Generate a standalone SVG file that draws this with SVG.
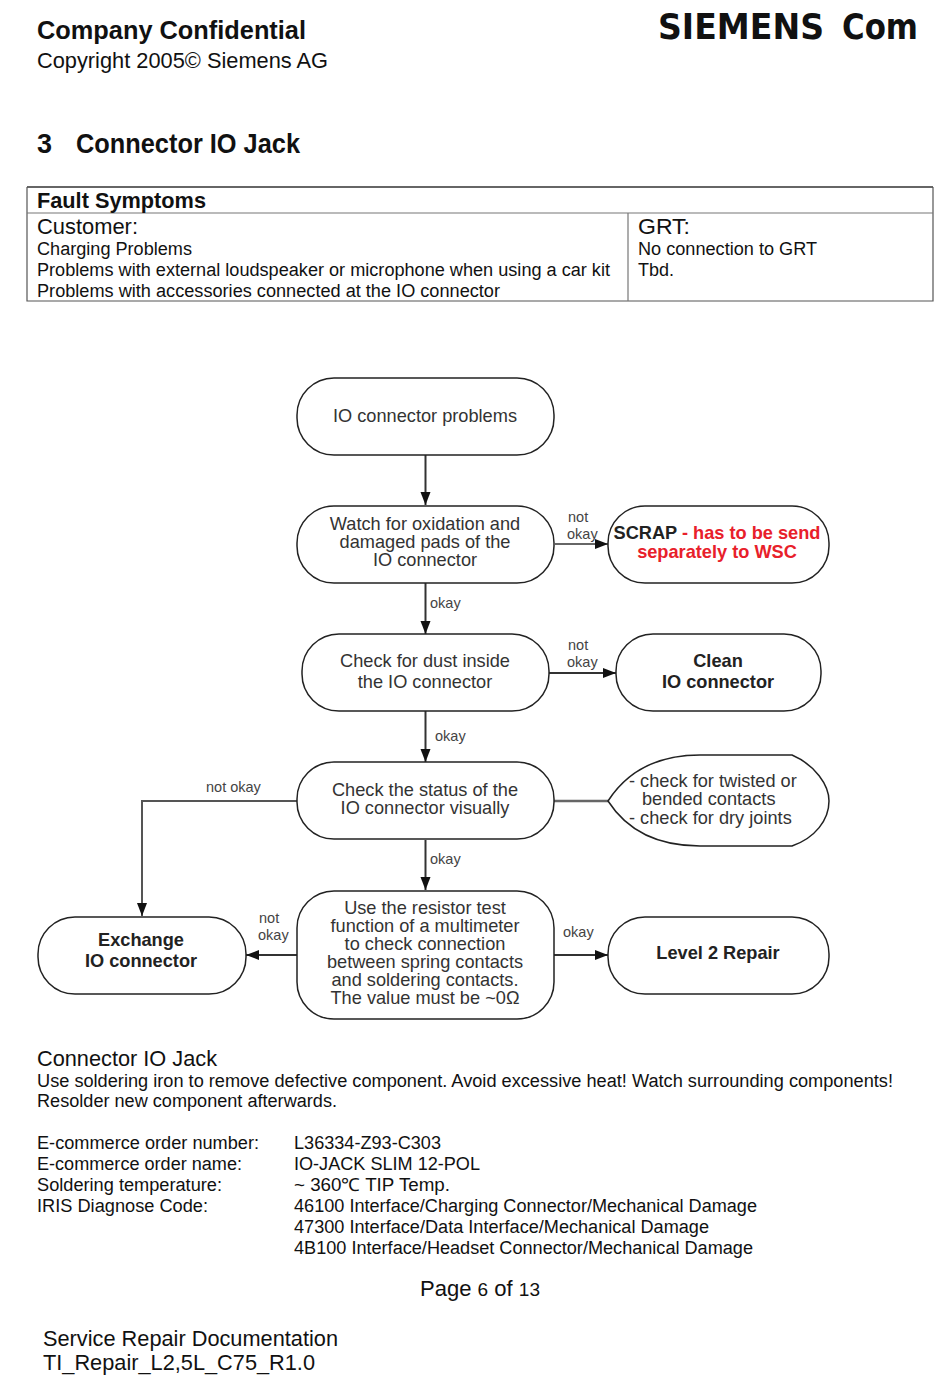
<svg xmlns="http://www.w3.org/2000/svg" width="950" height="1398" viewBox="0 0 950 1398">
<style>
text{font-family:"Liberation Sans",Arial,sans-serif;fill:#111}
.b{font-weight:bold}
.h{font-size:25px}
.m{font-size:22px}
.s{font-size:18px}
.n{font-size:18.2px;text-anchor:middle;fill:#333}
.nb{font-size:18.2px;text-anchor:middle;font-weight:bold;fill:#222}
.l{font-size:14.5px;fill:#444}
.red{fill:#e8202a}
.box{fill:#fff;stroke:#222;stroke-width:1.5}
.c{fill:none;stroke:#333;stroke-width:2}
.t{fill:none;stroke:#555;stroke-width:1.2}
</style>
<defs>
<marker id="a" markerUnits="userSpaceOnUse" markerWidth="14" markerHeight="12" refX="13" refY="5" orient="auto"><path d="M0 0L13 5L0 10Z" fill="#111"/></marker>
</defs>
<rect width="950" height="1398" fill="#fff"/>
<g id="header">
<text x="37" y="39" class="b h" textLength="269" lengthAdjust="spacingAndGlyphs">Company Confidential</text>
<text x="37" y="68" class="m" textLength="291" lengthAdjust="spacingAndGlyphs">Copyright 2005© Siemens AG</text>
<text x="658" y="39" class="b" style="font-family:'DejaVu Sans',sans-serif;font-size:35px" textLength="166" lengthAdjust="spacingAndGlyphs">SIEMENS</text>
<text x="842" y="39" class="b" style="font-family:'DejaVu Sans',sans-serif;font-size:35px" textLength="76" lengthAdjust="spacingAndGlyphs">Com</text>
<text x="37" y="153" class="b" style="font-size:27px">3</text>
<text x="76" y="153" class="b" style="font-size:27px" textLength="224" lengthAdjust="spacingAndGlyphs">Connector IO Jack</text>
</g>
<g id="fault-table">
<path d="M27 187H933" class="t" style="stroke:#333;stroke-width:1.6"/>
<path d="M27 187V301H933V187" class="t"/>
<path d="M27 213H933M628 213V301" class="t" style="stroke:#777"/>
<text x="37" y="208" class="b" style="font-size:22px" textLength="169" lengthAdjust="spacingAndGlyphs">Fault Symptoms</text>
<text x="37" y="234" class="m" textLength="101" lengthAdjust="spacingAndGlyphs">Customer:</text>
<text x="37" y="255" class="s" textLength="155" lengthAdjust="spacingAndGlyphs">Charging Problems</text>
<text x="37" y="276" class="s" textLength="573" lengthAdjust="spacingAndGlyphs">Problems with external loudspeaker or microphone when using a car kit</text>
<text x="37" y="297" class="s" textLength="463" lengthAdjust="spacingAndGlyphs">Problems with accessories connected at the IO connector</text>
<text x="638" y="234" class="m" textLength="52" lengthAdjust="spacingAndGlyphs">GRT:</text>
<text x="638" y="255" class="s" textLength="179" lengthAdjust="spacingAndGlyphs">No connection to GRT</text>
<text x="638" y="276" class="s">Tbd.</text>
</g>
<g id="connectors">
<path d="M425.500 455V505" class="c" marker-end="url(#a)"/>
<path d="M555 544H608" class="c" style="stroke:#666" marker-end="url(#a)"/>
<path d="M425.500 583V634" class="c" marker-end="url(#a)"/>
<path d="M549 673H616" class="c" marker-end="url(#a)"/>
<path d="M425.500 711V762" class="c" marker-end="url(#a)"/>
<path d="M297 801H142V916" class="c" style="stroke:#555" marker-end="url(#a)"/>
<path d="M554 801H608" class="c" style="stroke:#666;stroke-width:2.500"/>
<path d="M425.500 840V890" class="c" marker-end="url(#a)"/>
<path d="M297 955H246" class="c" marker-end="url(#a)"/>
<path d="M554 955H608" class="c" marker-end="url(#a)"/>
<text x="568" y="522" class="l">not</text><text x="567" y="539" class="l">okay</text>
<text x="430" y="608" class="l">okay</text>
<text x="568" y="650" class="l">not</text><text x="567" y="667" class="l">okay</text>
<text x="435" y="741" class="l">okay</text>
<text x="206" y="792" class="l">not okay</text>
<text x="430" y="864" class="l">okay</text>
<text x="259" y="923" class="l">not</text><text x="258" y="940" class="l">okay</text>
<text x="563" y="937" class="l">okay</text>
</g>
<g id="n1"><rect x="297" y="378" width="257" height="77" rx="37" class="box"/><text x="425" y="422" class="n">IO connector problems</text></g>
<g id="n2"><rect x="297" y="506" width="257" height="77" rx="37" class="box"/><text x="425" y="530" class="n">Watch for oxidation and</text><text x="425" y="548" class="n">damaged pads of the</text><text x="425" y="566" class="n">IO connector</text></g>
<g id="n3"><rect x="608" y="506" width="221" height="77" rx="37" class="box"/><text x="717" y="539" class="nb"><tspan>SCRAP </tspan><tspan class="red">- has to be send</tspan></text><text x="717" y="558" class="nb red">separately to WSC</text></g>
<g id="n4"><rect x="302" y="634" width="247" height="77" rx="37" class="box"/><text x="425" y="667" class="n">Check for dust inside</text><text x="425" y="688" class="n">the IO connector</text></g>
<g id="n5"><rect x="616" y="634" width="205" height="77" rx="37" class="box"/><text x="718" y="667" class="nb">Clean</text><text x="718" y="688" class="nb">IO connector</text></g>
<g id="n6"><rect x="297" y="762" width="257" height="77" rx="37" class="box"/><text x="425" y="796" class="n">Check the status of the</text><text x="425" y="814" class="n">IO connector visually</text></g>
<g id="n7"><path d="M608 801C628 770 660 755 700 755H792C815 765 829 785 829 801C829 820 815 838 792 846H700C660 846 628 832 608 801Z" class="box"/><text x="629" y="787" class="n" style="text-anchor:start">- check for twisted or</text><text x="642" y="805" class="n" style="text-anchor:start">bended contacts</text><text x="629" y="824" class="n" style="text-anchor:start">- check for dry joints</text></g>
<g id="n8"><rect x="297" y="891" width="257" height="128" rx="37" class="box"/><text x="425" y="914" class="n">Use the resistor test</text><text x="425" y="932" class="n">function of a multimeter</text><text x="425" y="950" class="n">to check connection</text><text x="425" y="968" class="n">between spring contacts</text><text x="425" y="986" class="n">and soldering contacts.</text><text x="425" y="1004" class="n">The value must be ~0Ω</text></g>
<g id="n9"><rect x="38" y="917" width="208" height="77" rx="37" class="box"/><text x="141" y="946" class="nb">Exchange</text><text x="141" y="967" class="nb">IO connector</text></g>
<g id="n10"><rect x="608" y="917" width="221" height="77" rx="37" class="box"/><text x="718" y="959" class="nb">Level 2 Repair</text></g>
<g id="body">
<text x="37" y="1066" class="m" textLength="180" lengthAdjust="spacingAndGlyphs">Connector IO Jack</text>
<text x="37" y="1087" class="s" textLength="856" lengthAdjust="spacingAndGlyphs">Use soldering iron to remove defective component. Avoid excessive heat! Watch surrounding components!</text>
<text x="37" y="1107" class="s" textLength="300" lengthAdjust="spacingAndGlyphs">Resolder new component afterwards.</text>
<text x="37" y="1149" class="s" textLength="222" lengthAdjust="spacingAndGlyphs">E-commerce order number:</text>
<text x="294" y="1149" class="s" textLength="147" lengthAdjust="spacingAndGlyphs">L36334-Z93-C303</text>
<text x="37" y="1170" class="s" textLength="205" lengthAdjust="spacingAndGlyphs">E-commerce order name:</text>
<text x="294" y="1170" class="s" textLength="186" lengthAdjust="spacingAndGlyphs">IO-JACK SLIM 12-POL</text>
<text x="37" y="1191" class="s" textLength="185" lengthAdjust="spacingAndGlyphs">Soldering temperature:</text>
<text x="294" y="1191" class="s" textLength="156" lengthAdjust="spacingAndGlyphs">~ 360℃ TIP Temp.</text>
<text x="37" y="1212" class="s" textLength="171" lengthAdjust="spacingAndGlyphs">IRIS Diagnose Code:</text>
<text x="294" y="1212" class="s" textLength="463" lengthAdjust="spacingAndGlyphs">46100 Interface/Charging Connector/Mechanical Damage</text>
<text x="294" y="1233" class="s" textLength="415" lengthAdjust="spacingAndGlyphs">47300 Interface/Data Interface/Mechanical Damage</text>
<text x="294" y="1254" class="s" textLength="459" lengthAdjust="spacingAndGlyphs">4B100 Interface/Headset Connector/Mechanical Damage</text>
</g>
<g id="footer">
<text x="420" y="1296" class="m" textLength="120" lengthAdjust="spacingAndGlyphs">Page <tspan style="font-size:19px">6</tspan> of <tspan style="font-size:19px">13</tspan></text>
<text x="43" y="1346" class="m" textLength="295" lengthAdjust="spacingAndGlyphs">Service Repair Documentation</text>
<text x="43" y="1370" class="m" textLength="272" lengthAdjust="spacingAndGlyphs">TI_Repair_L2,5L_C75_R1.0</text>
</g>
</svg>
